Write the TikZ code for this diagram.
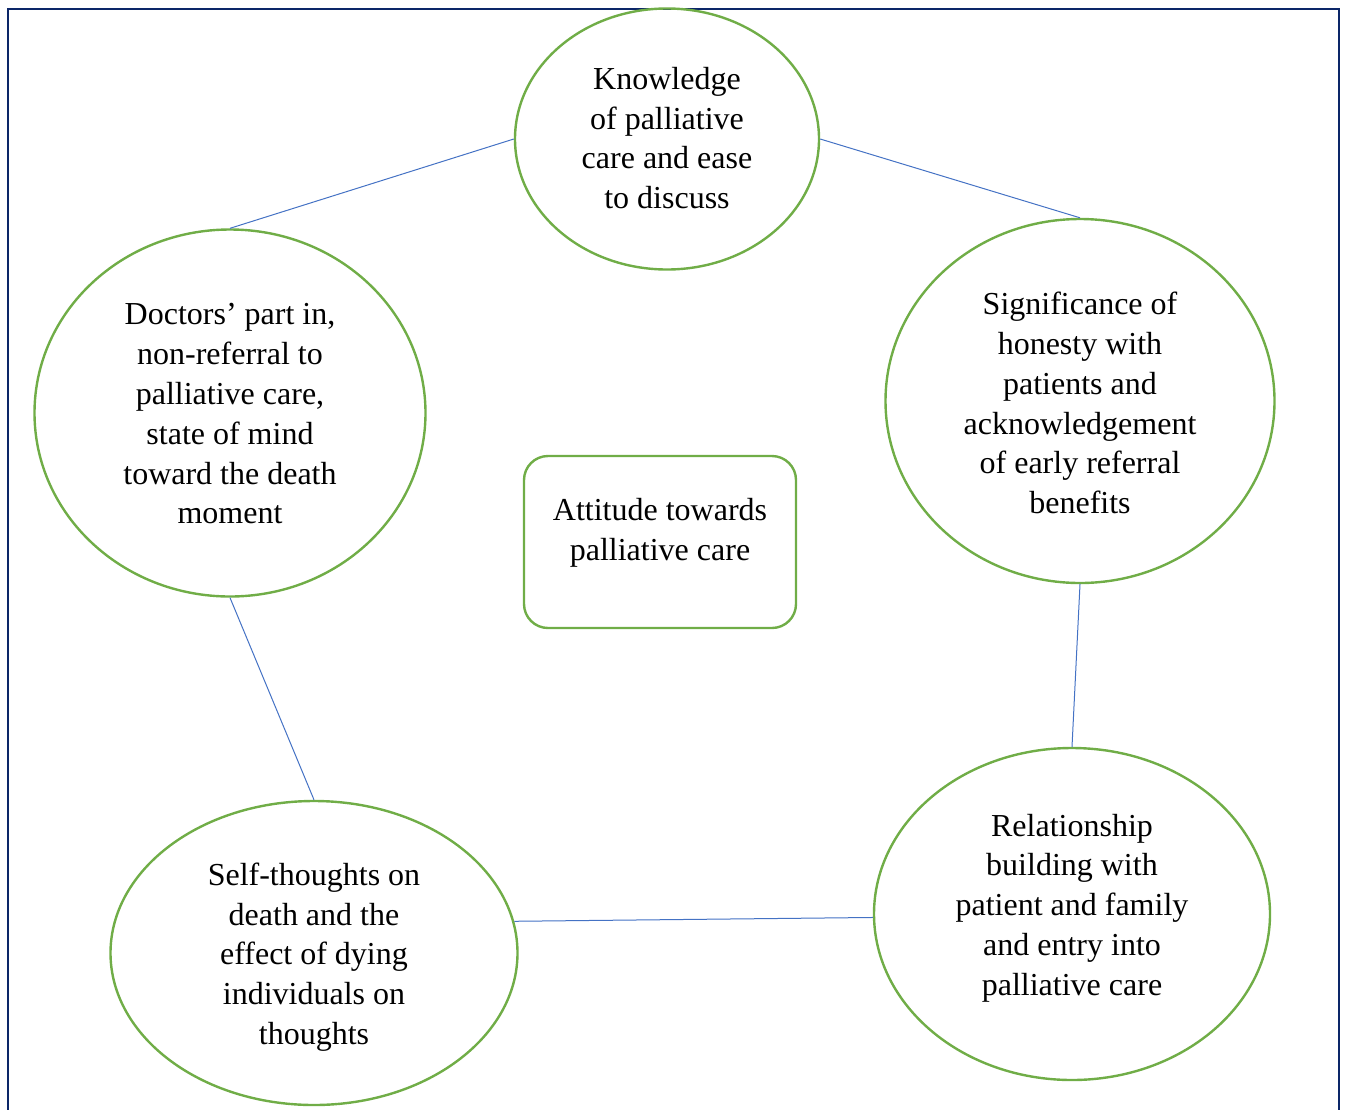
\documentclass[tikz,border=0pt]{standalone}
\usepackage{fontspec}
\setmainfont{Liberation Serif}
\usetikzlibrary{shapes.geometric}
\definecolor{framecol}{HTML}{0C2668}
\definecolor{ringcol}{HTML}{70AD47}
\definecolor{linkcol}{HTML}{4472C4}
\tikzset{
  ring/.style={ellipse, draw=ringcol, line width=2.4pt, inner sep=0pt},
  txt/.style={align=center, inner sep=0pt, font=\fontsize{32}{39.8}\selectfont},
  link/.style={draw=linkcol, line width=1pt},
  centerbox/.style={rectangle, rounded corners=24pt, draw=ringcol, line width=2.4pt, inner sep=0pt}
}
\begin{document}
\begin{tikzpicture}[x=1pt,y=-1pt]
\useasboundingbox (0,0) rectangle (1347,1109);
% frame
\draw[framecol, line width=2.6pt] (8,1112) -- (8,9) -- (1339,9) -- (1339,1112);
% shapes
\node[ring, minimum width=304pt, minimum height=261pt] (k) at (667,139) {};
\node[ring, minimum width=389pt, minimum height=364pt] (s) at (1080,401) {};
\node[ring, minimum width=391pt, minimum height=367pt] (d) at (230,413) {};
\node[ring, minimum width=407pt, minimum height=304pt] (t) at (314,953) {};
\node[ring, minimum width=396pt, minimum height=332pt] (r) at (1072,914) {};
\node[centerbox, minimum width=272pt, minimum height=172pt] (a) at (660,542) {};
% texts
\node[txt] (kt) at (667,138) {Knowledge\\of palliative\\care and ease\\to discuss};
\node[txt] (st) at (1080,403) {Significance of\\honesty with\\patients and\\acknowledgement\\of early referral\\benefits};
\node[txt] (dt) at (230,414) {Doctors’ part in,\\non-referral to\\palliative care,\\state of mind\\toward the death\\moment};
\node[txt] (tt) at (314,957) {Self-thoughts on\\death and the\\effect of dying\\individuals on\\thoughts};
\node[txt] (rt) at (1072,908) {Relationship\\building with\\patient and family\\and entry into\\palliative care};
\node[txt] (at) at (660,533) {Attitude towards\\palliative care};
% connectors
\draw[link] (k.west) -- (d.north);
\draw[link] (k.east) -- (s.north);
\draw[link] (s.south) -- (r.north);
\draw[link] (r.181) -- (t.9);
\draw[link] (d.south) -- (t.north);
\end{tikzpicture}
\end{document}
